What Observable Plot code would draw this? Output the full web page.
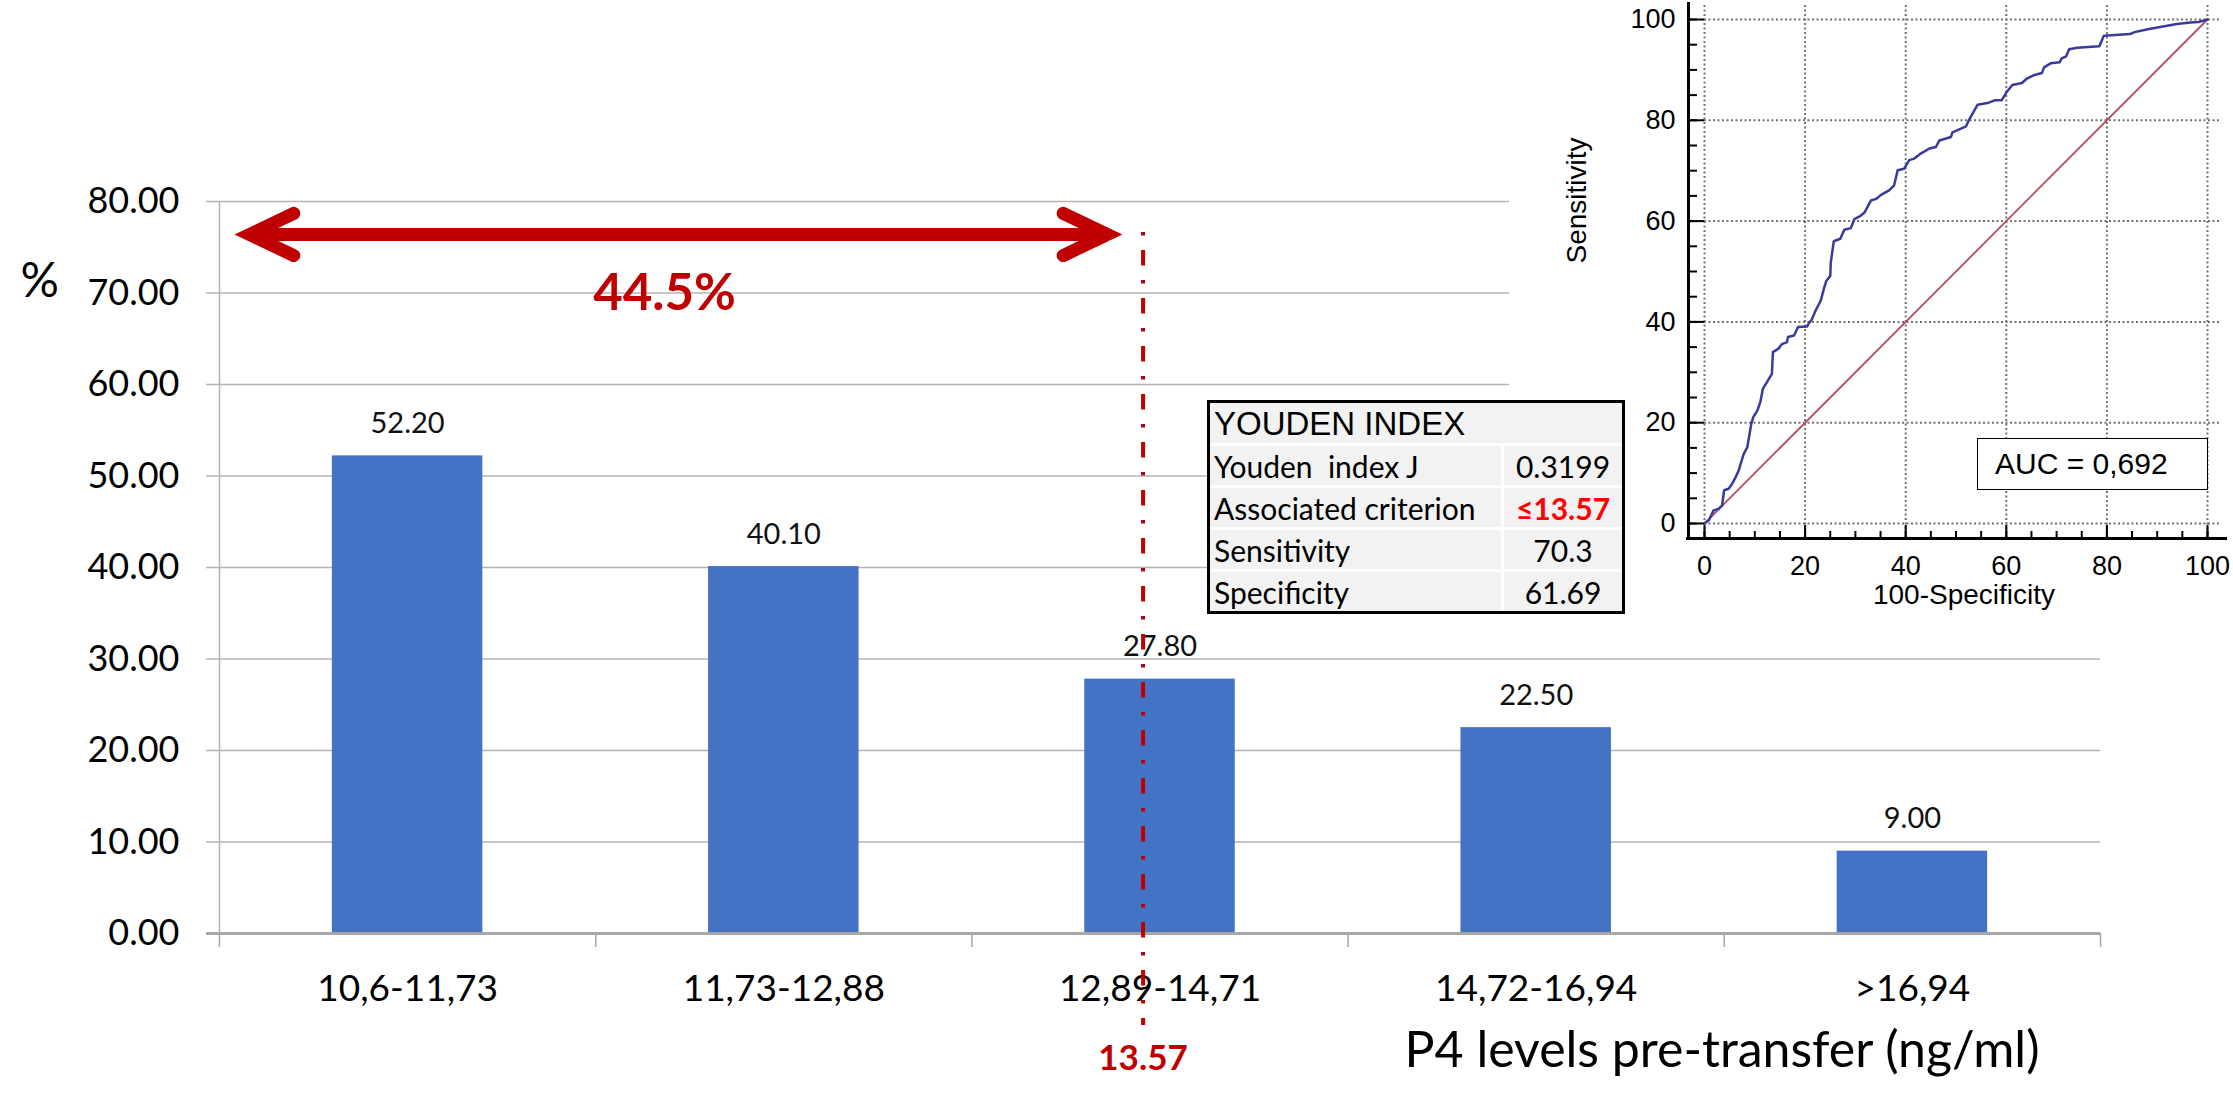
<!DOCTYPE html>
<html><head><meta charset="utf-8">
<script src="https://cdn.jsdelivr.net/npm/d3@7"></script>
<script src="https://cdn.jsdelivr.net/npm/@observablehq/plot@0.6"></script>
<style>
html,body{margin:0;padding:0;background:#fff;}
#wrap{position:relative;width:2233px;height:1115px;overflow:hidden;background:#fff;}
#main{position:absolute;left:0;top:0;}
#roc{position:absolute;left:1509px;top:0;width:724px;height:627px;background:#fff;}
#youden{position:absolute;left:1207px;top:400px;width:418px;height:213px;box-sizing:border-box;border:3px solid #000;border-collapse:separate;border-spacing:0;background:#f2f2f2;table-layout:fixed;}
#youden td{padding:0 0 0 4px;font-family:Lato,sans-serif;font-size:30px;color:#000;white-space:pre;border-top:3px solid #fff;vertical-align:middle;line-height:1;overflow:hidden;}
#youden tr.head td{border-top:none;font-family:'Liberation Sans',Arial,sans-serif;font-size:33px;}
#youden td.val{text-align:center;padding:0;border-left:3px solid #fff;}
#youden td.hi{color:#ff0000;font-weight:bold;}
#auc{position:absolute;left:1977px;top:438px;width:231px;height:52px;box-sizing:border-box;border:1.5px solid #000;background:#fff;font-family:'Liberation Sans',Arial,sans-serif;font-size:30px;line-height:49px;padding-left:17px;color:#000;white-space:nowrap;}
</style></head><body>
<div id="wrap"><div id="main"></div><div id="roc"></div><table id="youden"></table><div id="auc"></div></div>
<script>
// ---- main bar chart data ----
const categories = ["10,6-11,73", "11,73-12,88", "12,89-14,71", "14,72-16,94", ">16,94"];
const values = [52.20, 40.10, 27.80, 22.50, 9.00];
const yTicks = [0, 10, 20, 30, 40, 50, 60, 70, 80];
const yTitle = "%";
const xTitle = "P4 levels pre-transfer (ng/ml)";
const cutoffLabel = "13.57";
const cutoffPos = 2.455;            // position of the 13.57 cut-off within the category axis
const rangeLabel = "44.5%";
const arrowStart = 0.08, arrowEnd = 2.36, arrowLevel = 76.4;

// ---- Youden table ----
const youdenTitle = "YOUDEN INDEX";
const youdenNames = ["Youden  index J", "Associated criterion", "Sensitivity", "Specificity"];
const youdenValues = ["0.3199", "\u226413.57", "70.3", "61.69"];

// ---- ROC inset data ----
const rocFpr = [0,0.9,1.8,2.8,3.5,3.9,4.8,5.5,6.2,6.8,7.2,7.8,8.5,8.8,9.3,9.7,10.5,11.1,11.6,12.8,13.4,13.6,14.7,15.4,16.4,16.6,17.8,18.6,20.4,20.8,21.4,22.1,23.1,23.8,24.2,25.0,25.1,25.7,27.0,27.8,29.1,29.8,31.1,31.8,33.1,34.1,35.1,36.7,37.7,38.4,39.7,40.7,41.7,43.0,44.7,46.0,46.7,49.0,49.3,52.0,52.6,54.3,56.5,57.8,59.1,60.0,61.2,63.1,64.0,65.6,67.1,67.5,68.8,70.6,71.0,71.9,72.5,74.1,78.5,79.4,84.6,85.5,88.4,89.5,91.7,93.9,96.6,98.2,100];
const rocSens = [0,0.7,2.6,2.9,3.6,6.6,6.9,7.9,9.2,10.5,11.9,13.8,15.1,16.8,19.8,21.1,22.4,24.1,26.7,28.7,29.7,34.0,34.7,35.6,36.0,37.0,37.3,39.0,39.1,39.8,40.6,42.3,44.2,46.8,48.1,49.1,51.7,56.0,56.5,58.3,58.6,60.4,61.1,61.7,64.1,64.4,65.2,66.1,67.1,70.1,70.4,72.1,72.4,73.4,74.4,74.7,76.0,76.7,77.6,78.8,80.1,83.1,83.5,84.0,84.0,85.5,87.0,87.4,88.2,89.0,89.4,90.5,91.3,91.5,92.3,92.7,94.1,94.4,94.7,96.8,97.1,97.5,98.1,98.3,98.7,99.1,99.4,99.5,100];
const diagonalX = [0, 100];
const diagonalY = [0, 100];
const rocTicks = [0, 20, 40, 60, 80, 100];
const rocMinorTicks = d3.range(0, 101, 5);
const rocXTitle = "100-Specificity";
const rocYTitle = "Sensitivity";
const aucLabel = "AUC = 0,692";

// ---- main chart ----
const W = 2233, H = 1115, ML = 219, MR = 133, MT = 201, MB = 182;
const bandPx = (W - ML - MR) / categories.length;
const bars = categories.map((c, i) => ({c, i, v: values[i]}));
const arrowMid = (arrowStart + arrowEnd) / 2;
const arrows = [{x1: arrowMid, x2: arrowStart}, {x1: arrowMid, x2: arrowEnd}];

const main = Plot.plot({
  width: W, height: H,
  marginLeft: ML, marginRight: MR, marginTop: MT, marginBottom: MB,
  style: {fontFamily: "Lato, sans-serif", background: "transparent", color: "#000", overflow: "visible"},
  x: {domain: [0, categories.length]},
  y: {domain: [0, 80]},
  marks: [
    Plot.gridY(yTicks, {stroke: "#b4b4b4", strokeOpacity: 1, strokeWidth: 1.5, insetLeft: -13}),
    Plot.ruleX([0], {stroke: "#b4b4b4", strokeWidth: 1.5}),
    Plot.rectY(bars, {x1: "i", x2: d => d.i + 1, y: "v", fill: "#4472c4", insetLeft: bandPx * 0.3, insetRight: bandPx * 0.3}),
    Plot.ruleY([0], {stroke: "#a6a6a6", strokeWidth: 3, insetLeft: -13}),
    Plot.axisX(d3.range(0, categories.length + 1), {tickSize: 14, fill: "none", stroke: "#a6a6a6", strokeWidth: 1.5, label: null}),
    Plot.axisX(categories.map((c, i) => i + 0.5), {tickSize: 0, tickPadding: 41, tickFormat: d => categories[Math.floor(d)], fontSize: 37, label: null}),
    Plot.axisY(yTicks, {tickSize: 0, tickPadding: 40, tickFormat: d3.format(".2f"), fontSize: 36, label: null}),
    Plot.text(bars, {x: d => d.i + 0.5, y: "v", text: d => d3.format(".2f")(d.v), dy: -23, lineAnchor: "bottom", fontSize: 29, fill: "#111"}),
    Plot.ruleX([cutoffPos], {stroke: "#c00000", strokeWidth: 4, strokeDasharray: "3.5,14.5,15.5,14.5", insetTop: 31, insetBottom: -92}),
    Plot.arrow(arrows, {x1: "x1", x2: "x2", y1: () => arrowLevel, y2: () => arrowLevel, stroke: "#c00000", strokeWidth: 13, headLength: 5.65, headAngle: 51, strokeLinejoin: "miter", strokeMiterlimit: 4, strokeLinecap: "round"}),
    Plot.text([rangeLabel], {x: () => arrowMid, y: () => arrowLevel, dx: -14, dy: 76, lineAnchor: "bottom", fontSize: 51, fontWeight: "bold", fill: "#c00000"}),
    Plot.text([cutoffLabel], {x: () => cutoffPos, frameAnchor: "bottom", dy: 136, fontSize: 35, fontWeight: "bold", fill: "#c00000"}),
    Plot.text([xTitle], {frameAnchor: "bottom-right", dx: -61, dy: 133, textAnchor: "end", fontSize: 50, fill: "#000"}),
    Plot.text([yTitle], {frameAnchor: "top-left", dx: -199, dy: 61, fontSize: 48, fill: "#000"})
  ]
});
document.getElementById("main").appendChild(main);

// ---- ROC inset ----
const rocPts = rocFpr.map((x, i) => ({x, y: rocSens[i]}));
const diag = diagonalX.map((x, i) => ({x, y: diagonalY[i]}));
const roc = Plot.plot({
  width: 724, height: 627,
  marginLeft: 195, marginRight: 26, marginTop: 19, marginBottom: 104,
  style: {fontFamily: "'Liberation Sans', Arial, sans-serif", background: "#fff", color: "#000", overflow: "visible"},
  x: {domain: [0, 100]},
  y: {domain: [0, 100]},
  marks: [
    Plot.gridX(rocTicks, {stroke: "#707070", strokeOpacity: 1, strokeWidth: 2, strokeDasharray: "2,2.5", insetTop: -14, insetBottom: -15}),
    Plot.gridY(rocTicks, {stroke: "#707070", strokeOpacity: 1, strokeWidth: 2, strokeDasharray: "2,2.5", insetRight: -13}),
    Plot.line(diag, {x: "x", y: "y", stroke: "#b0505f", strokeWidth: 1.8}),
    Plot.line(rocPts, {x: "x", y: "y", stroke: "#3a3a9c", strokeWidth: 2.5}),
    Plot.ruleX([0], {dx: -16, insetTop: -17, insetBottom: -15, stroke: "#000", strokeWidth: 3}),
    Plot.ruleY([0], {dy: 15, insetLeft: -18, insetRight: -20, stroke: "#000", strokeWidth: 3}),
    Plot.axisY(rocMinorTicks, {tickSize: -9, dx: -16, fill: "none", stroke: "#000", strokeWidth: 2, label: null}),
    Plot.axisY(rocTicks, {tickSize: -16, dx: -16, fill: "none", stroke: "#000", strokeWidth: 2, label: null}),
    Plot.axisY(rocTicks, {tickSize: 0, tickPadding: 29, fontSize: 27, label: null}),
    Plot.axisX(rocMinorTicks, {tickSize: -7, dy: 15, fill: "none", stroke: "#000", strokeWidth: 2, label: null}),
    Plot.axisX(rocTicks, {tickSize: -13, dy: 15, fill: "none", stroke: "#000", strokeWidth: 2, label: null}),
    Plot.axisX(rocTicks, {tickSize: 0, tickPadding: 32, fontSize: 27, label: null}),
    Plot.text([rocYTitle], {frameAnchor: "left", dx: -127, dy: -8, rotate: -90, fontSize: 28, fill: "#000"}),
    Plot.text([rocXTitle], {frameAnchor: "bottom", dx: 8, dy: 80, fontSize: 28, fill: "#000"})
  ]
});
document.getElementById("roc").appendChild(roc);

// ---- Youden table ----
const tbl = document.getElementById("youden");
const head = document.createElement("tr");
head.className = "head";
head.style.height = "40px";
const hc = document.createElement("td");
hc.colSpan = 2;
hc.textContent = youdenTitle;
head.appendChild(hc);
const cg = document.createElement("colgroup");
cg.innerHTML = '<col style="width:291px"><col style="width:121px">';
tbl.appendChild(cg);
tbl.appendChild(head);
youdenNames.forEach((n, i) => {
  const tr = document.createElement("tr");
  tr.style.height = "42px";
  const a = document.createElement("td"); a.textContent = n;
  const b = document.createElement("td"); b.textContent = youdenValues[i];
  b.className = "val" + (i === 1 ? " hi" : "");
  tr.appendChild(a); tr.appendChild(b);
  tbl.appendChild(tr);
});
document.getElementById("auc").textContent = aucLabel;
</script>
</body></html>
